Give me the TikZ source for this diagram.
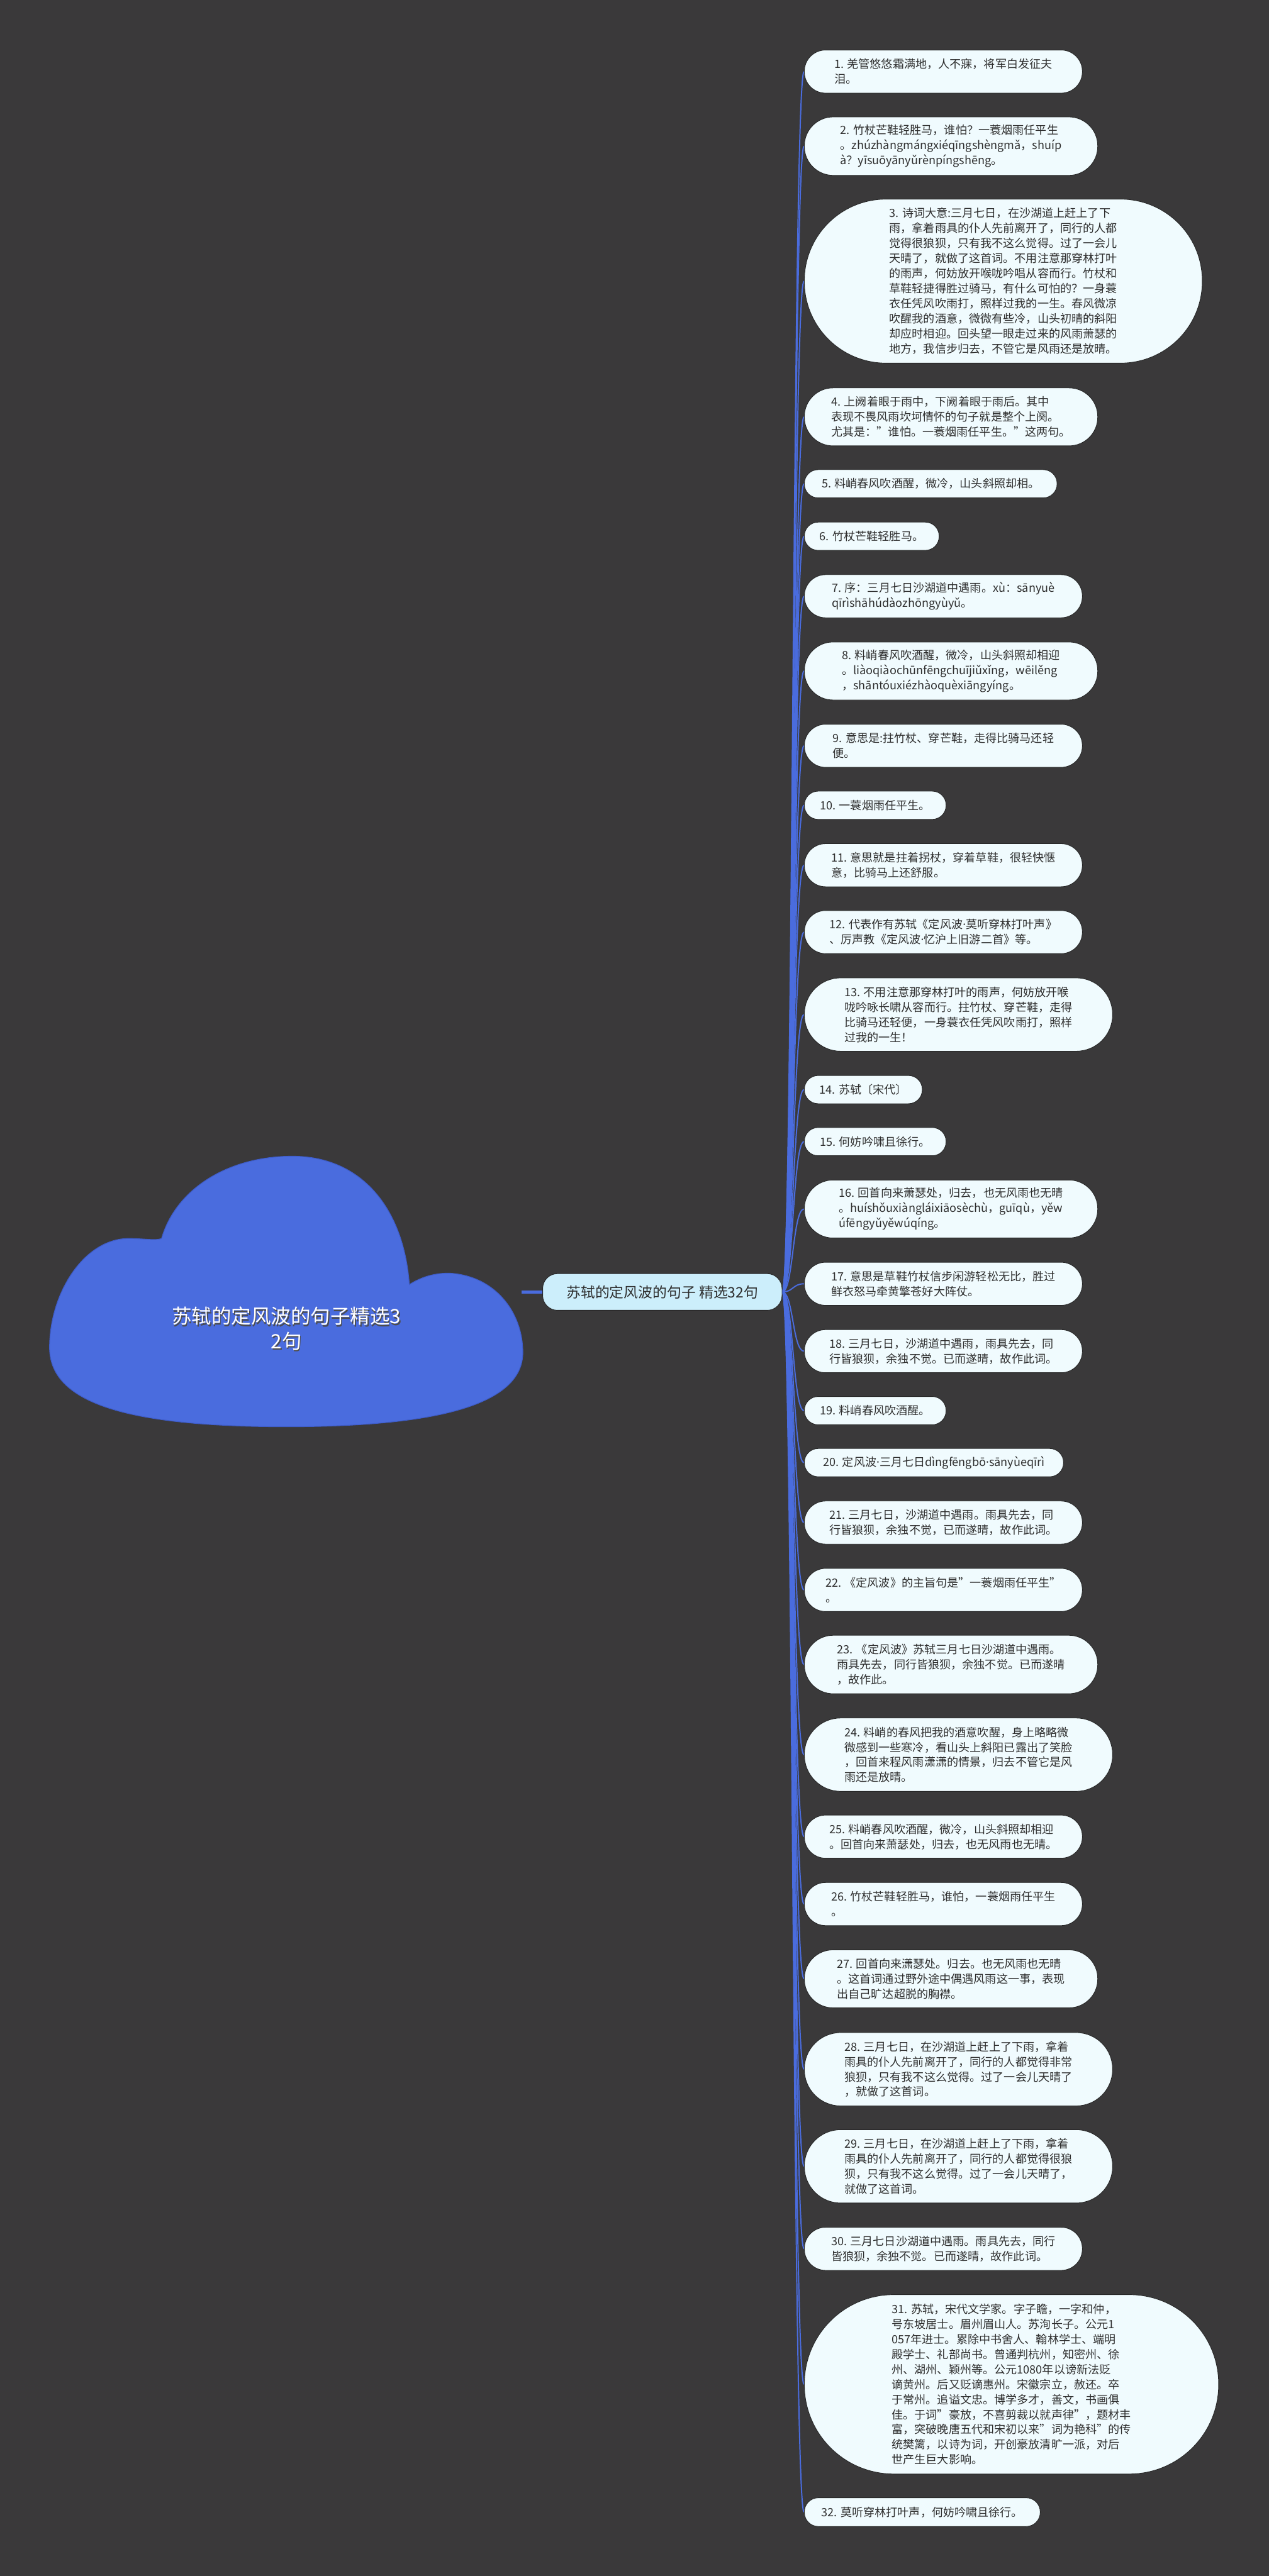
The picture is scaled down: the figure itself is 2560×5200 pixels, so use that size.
\documentclass[tikz,border=0pt]{standalone}
\usepackage{fontspec}
\setmainfont{Noto Sans CJK SC}
\newfontfamily\dotfont{Noto Sans}
\newcommand\md{{\dotfont ·}}
\usetikzlibrary{calc}
\definecolor{bgdark}{HTML}{3A393A}
\definecolor{leaffill}{HTML}{F0FBFE}
\definecolor{hubfill}{HTML}{CCEEFB}
\definecolor{linkblue}{HTML}{4A6CDE}
\definecolor{cloudblue}{HTML}{4A6CDE}
\definecolor{cloudedge}{HTML}{3E5CC8}
\definecolor{textdark}{HTML}{2E2E2E}
\pgfdeclarelayer{bg}
\pgfdeclarelayer{links}
\pgfsetlayers{bg,links,main}
\newcommand\leaffont{\fontsize{23}{30.4}\selectfont}
\tikzset{
  leaf/.style={draw=black!85, line width=1.2pt, fill=leaffill, text=textdark, font=\leaffont, align=left, inner sep=0pt},
  link/.style={draw=linkblue, line width=2.5pt},
  hubbox/.style={draw=black!85, line width=1.2pt, fill=hubfill, text=textdark, font=\fontsize{29}{36}\selectfont, inner sep=0pt},
  roottext/.style={font=\fontsize{40}{50}\selectfont, align=center, inner sep=0pt}
}
\newcommand\leafnode[5]{%
  \pgfmathsetmacro\lfw{#4-1623}%
  \pgfmathsetmacro\lfh{#3-#2}%
  \pgfmathsetmacro\lfr{(#3-#2)/2-0.6}%
  \pgfmathsetmacro\lfx{(1623+#4)/2}%
  \pgfmathsetmacro\lfy{(#2+#3)/2}%
  \node[leaf, minimum width=\lfw pt, minimum height=\lfh pt, rounded corners=\lfr pt] (#1) at (\lfx,\lfy) {#5};%
  \begin{pgfonlayer}{links}\draw[link] (hub.east) .. controls +(22,0) and +(-23,0) .. (#1.west);\end{pgfonlayer}%
}
\begin{document}
\begin{tikzpicture}[x=1pt,y=-1pt]
\begin{pgfonlayer}{bg}
\fill[bgdark] (0,0) rectangle (2560,5200);
\end{pgfonlayer}
\useasboundingbox (0,0) rectangle (2560,5200);
% cloud root
\fill[cloudblue, draw=cloudedge, line width=1.5pt]
  (100,2720) .. controls (100,2610) and (170,2500) .. (260,2500)
  .. controls (290,2500) and (315,2505) .. (326,2500)
  .. controls (355,2400) and (460,2334) .. (590,2334)
  .. controls (730,2334) and (815,2440) .. (826,2593)
  .. controls (850,2578) and (875,2570) .. (906,2570)
  .. controls (1000,2575) and (1055,2650) .. (1055,2730)
  .. controls (1055,2830) and (900,2880) .. (578,2880)
  .. controls (250,2880) and (100,2830) .. (100,2720) -- cycle;
\node[roottext, text=black!70] (rootshadow) at (580,2685) {苏轼的定风波的句子精选3\\2句};
\node[roottext, text=white] (root) at (578,2682) {苏轼的定风波的句子精选3\\2句};
\coordinate (rootR) at (1052,2608);
\node[hubbox, minimum width=483pt, minimum height=74pt, rounded corners=30pt] (hub) at (1336.5,2608) {苏轼的定风波的句子 精选32句};
\begin{pgfonlayer}{links}
\draw[link, line width=6pt] (rootR) -- (hub.west);
\end{pgfonlayer}
\leafnode{n1}{101}{188}{2184}{1. 羌管悠悠霜满地，人不寐，将军白发征夫\\泪。}
\leafnode{n2}{236}{354}{2215}{2. 竹杖芒鞋轻胜马，谁怕？一蓑烟雨任平生\\。zhúzhàngmángxiéqīngshèngmǎ，shuíp\\à？yīsuōyānyǔrènpíngshēng。}
\leafnode{n3}{402}{733}{2426}{3. 诗词大意:三月七日，在沙湖道上赶上了下\\雨，拿着雨具的仆人先前离开了，同行的人都\\觉得很狼狈，只有我不这么觉得。过了一会儿\\天晴了，就做了这首词。不用注意那穿林打叶\\的雨声，何妨放开喉咙吟唱从容而行。竹杖和\\草鞋轻捷得胜过骑马，有什么可怕的？一身蓑\\衣任凭风吹雨打，照样过我的一生。春风微凉\\吹醒我的酒意，微微有些冷，山头初晴的斜阳\\却应时相迎。回头望一眼走过来的风雨萧瑟的\\地方，我信步归去，不管它是风雨还是放晴。}
\leafnode{n4}{783}{900}{2215}{4. 上阙着眼于雨中，下阙着眼于雨后。其中\\表现不畏风雨坎坷情怀的句子就是整个上阕。\\尤其是："谁怕。一蓑烟雨任平生。"这两句。}
\leafnode{n5}{948}{1005}{2133}{5. 料峭春风吹酒醒，微冷，山头斜照却相。}
\leafnode{n6}{1054}{1111}{1895}{6. 竹杖芒鞋轻胜马。}
\leafnode{n7}{1160}{1247}{2184}{7. 序：三月七日沙湖道中遇雨。xù：sānyuè\\qīrìshāhúdàozhōngyùyǔ。}
\leafnode{n8}{1296}{1413}{2215}{8. 料峭春风吹酒醒，微冷，山头斜照却相迎\\。liàoqiàochūnfēngchuījiǔxǐng，wēilěng\\，shāntóuxiézhàoquèxiāngyíng。}
\leafnode{n9}{1462}{1549}{2184}{9. 意思是:拄竹杖、穿芒鞋，走得比骑马还轻\\便。}
\leafnode{n10}{1597}{1654}{1909}{10. 一蓑烟雨任平生。}
\leafnode{n11}{1703}{1790}{2184}{11. 意思就是拄着拐杖，穿着草鞋，很轻快惬\\意，比骑马上还舒服。}
\leafnode{n12}{1838}{1925}{2184}{12. 代表作有苏轼《定风波\md 莫听穿林打叶声》\\、厉声教《定风波\md 忆沪上旧游二首》等。}
\leafnode{n13}{1974}{2122}{2245}{13. 不用注意那穿林打叶的雨声，何妨放开喉\\咙吟咏长啸从容而行。拄竹杖、穿芒鞋，走得\\比骑马还轻便，一身蓑衣任凭风吹雨打，照样\\过我的一生！}
\leafnode{n14}{2171}{2228}{1861}{14. 苏轼〔宋代〕}
\leafnode{n15}{2276}{2333}{1909}{15. 何妨吟啸且徐行。}
\leafnode{n16}{2382}{2499}{2215}{16. 回首向来萧瑟处，归去，也无风雨也无晴\\。huíshǒuxiàngláixiāosèchù，guīqù，yěw\\úfēngyǔyěwúqíng。}
\leafnode{n17}{2548}{2635}{2184}{17. 意思是草鞋竹杖信步闲游轻松无比，胜过\\鲜衣怒马牵黄擎苍好大阵仗。}
\leafnode{n18}{2684}{2771}{2184}{18. 三月七日，沙湖道中遇雨，雨具先去，同\\行皆狼狈，余独不觉。已而遂晴，故作此词。}
\leafnode{n19}{2819}{2876}{1909}{19. 料峭春风吹酒醒。}
\leafnode{n20}{2924}{2981}{2146}{20. 定风波\md 三月七日dìngfēngbō\md sānyùeqīrì}
\leafnode{n21}{3030}{3117}{2184}{21. 三月七日，沙湖道中遇雨。雨具先去，同\\行皆狼狈，余独不觉，已而遂晴，故作此词。}
\leafnode{n22}{3166}{3253}{2184}{22. 《定风波》的主旨句是"一蓑烟雨任平生"\\。}
\leafnode{n23}{3301}{3419}{2215}{23. 《定风波》苏轼三月七日沙湖道中遇雨。\\雨具先去，同行皆狼狈，余独不觉。已而遂晴\\，故作此。}
\leafnode{n24}{3468}{3616}{2245}{24. 料峭的春风把我的酒意吹醒，身上略略微\\微感到一些寒冷，看山头上斜阳已露出了笑脸\\，回首来程风雨潇潇的情景，归去不管它是风\\雨还是放晴。}
\leafnode{n25}{3664}{3751}{2184}{25. 料峭春风吹酒醒，微冷，山头斜照却相迎\\。回首向来萧瑟处，归去，也无风雨也无晴。}
\leafnode{n26}{3800}{3887}{2184}{26. 竹杖芒鞋轻胜马，谁怕，一蓑烟雨任平生\\。}
\leafnode{n27}{3936}{4053}{2215}{27. 回首向来潇瑟处。归去。也无风雨也无晴\\。这首词通过野外途中偶遇风雨这一事，表现\\出自己旷达超脱的胸襟。}
\leafnode{n28}{4103}{4251}{2245}{28. 三月七日，在沙湖道上赶上了下雨，拿着\\雨具的仆人先前离开了，同行的人都觉得非常\\狼狈，只有我不这么觉得。过了一会儿天晴了\\，就做了这首词。}
\leafnode{n29}{4299}{4447}{2245}{29. 三月七日，在沙湖道上赶上了下雨，拿着\\雨具的仆人先前离开了，同行的人都觉得很狼\\狈，只有我不这么觉得。过了一会儿天晴了，\\就做了这首词。}
\leafnode{n30}{4496}{4583}{2184}{30. 三月七日沙湖道中遇雨。雨具先去，同行\\皆狼狈，余独不觉。已而遂晴，故作此词。}
\leafnode{n31}{4632}{4994}{2459}{31. 苏轼，宋代文学家。字子瞻，一字和仲，\\号东坡居士。眉州眉山人。苏洵长子。公元1\\057年进士。累除中书舍人、翰林学士、端明\\殿学士、礼部尚书。曾通判杭州，知密州、徐\\州、湖州、颖州等。公元1080年以谤新法贬\\谪黄州。后又贬谪惠州。宋徽宗立，赦还。卒\\于常州。追谥文忠。博学多才，善文，书画俱\\佳。于词"豪放，不喜剪裁以就声律"，题材丰\\富，突破晚唐五代和宋初以来"词为艳科"的传\\统樊篱，以诗为词，开创豪放清旷一派，对后\\世产生巨大影响。}
\leafnode{n32}{5042}{5100}{2099}{32. 莫听穿林打叶声，何妨吟啸且徐行。}
\end{tikzpicture}
\end{document}
